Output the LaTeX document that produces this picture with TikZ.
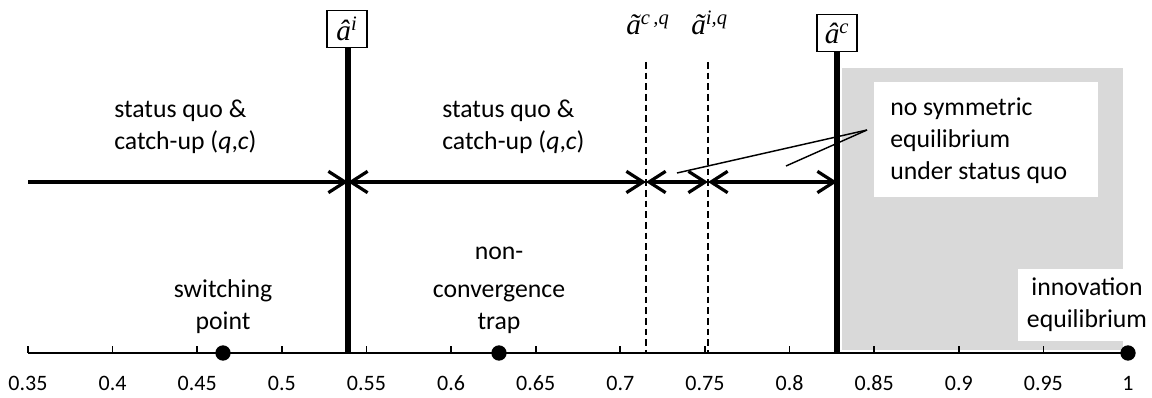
\documentclass[tikz,border=0pt]{standalone}
\usepackage{fontspec}
\setmainfont{Carlito}
\newfontfamily\tnr{Liberation Serif}
\usetikzlibrary{arrows.meta}
\definecolor{regiongray}{HTML}{D9D9D9}
\begin{document}
\begin{tikzpicture}[x=0.75pt,y=-0.75pt,
  txt/.style={font=\fontsize{19.3}{24}\selectfont, inner sep=0pt},
  ticklbl/.style={font=\fontsize{16.5}{20}\selectfont, inner sep=0pt, anchor=base},
  hatbox/.style={draw, line width=0.8pt, fill=white, inner sep=1.5pt, minimum width=30pt, minimum height=28pt, font=\fontsize{22}{24}\selectfont\tnr\itshape},
  tlbl/.style={inner sep=0pt, anchor=base west, font=\fontsize{22}{24}\selectfont\tnr\itshape},
  thickline/.style={line width=3.8pt},
  dashline/.style={line width=0.9pt, dash pattern=on 5pt off 3pt},
  axisline/.style={line width=2.1pt},
  tickline/.style={line width=1.3pt},
  dot/.style={circle, fill=black, inner sep=0pt, minimum size=11.5pt},
  barb/.tip={Straight Barb[length=12.5pt, width=16pt, line width=2.4pt]},
  arr/.style={line width=2.5pt},
  callout/.style={line width=1.1pt}
]
\useasboundingbox (0,0) rectangle (1152,398);
% shaded region and white label areas
\fill[regiongray] (842,68) rectangle (1123,350);
\fill[white] (874,82) rectangle (1098,197);
\fill[white] (1018,269) rectangle (1150,341);

% axis
\coordinate (axL) at (28,353);
\coordinate (axR) at (1128,353);
\draw[axisline] (axL) -- (axR);
\foreach \v [count=\i from 0] in {0.35,0.4,0.45,0.5,0.55,0.6,0.65,0.7,0.75,0.8,0.85,0.9,0.95,1} {
  \coordinate (t\i) at ({28+\i*84.615},353);
  \draw[tickline] (t\i) -- ++(0,-7);
  \node[ticklbl] (tl\i) at ({28+\i*84.615},391) {\v};
}

% threshold lines
\node[hatbox] (ahi) at (347,29) {â\textsuperscript{i}};
\node[hatbox] (ahc) at (837,33) {â\textsuperscript{c}};
\coordinate (ahib) at (348,353);
\coordinate (ahcb) at (837,353);
\draw[thickline] (ahi.south -| ahib) -- (ahib);
\draw[thickline] (ahc.south) -- (ahcb);

\node[tlbl] (tcq) at (626,35) {ã\textsuperscript{c\,,q}};
\node[tlbl] (tiq) at (691,35) {ã\textsuperscript{i,q}};
\coordinate (dcq) at (646,62);
\coordinate (diq) at (708,62);
\coordinate (dcqb) at (646,353);
\coordinate (diqb) at (708,353);
\draw[dashline] (dcq) -- (dcqb);
\draw[dashline] (diq) -- (diqb);

% arrows
\coordinate (a0) at (28,182);
\coordinate (a1) at (348,182);
\coordinate (a2) at (646,182);
\coordinate (a3) at (708,182);
\coordinate (a4) at (837,182);
\draw[arr,-barb] (a0) -- (a1);
\draw[arr,barb-barb] (a1) -- (a2);
\draw[arr,barb-barb] (a2) -- (a3);
\draw[arr,barb-barb] (a3) -- (a4);

% texts (anchor = baseline of last line)
\node[txt, align=left, anchor=base west] (sq1) at (114,150) {status quo \&\\catch-up (\textit{q},\textit{c})};
\node[txt, align=left, anchor=base west] (sq2) at (442,150) {status quo \&\\catch-up (\textit{q},\textit{c})};
\node[txt, align=center, anchor=base] (sw) at (223,330) {switching\\point};
\node[txt, align=center, anchor=base] (nct) at (499,330) {non-\\[5pt]convergence\\trap};
\node[txt, align=left, anchor=base west] (nse) at (890,180) {no symmetric\\equilibrium\\under status quo};
\node[txt, align=center, anchor=base] (ie) at (1087,328) {innovation\\equilibrium};

% callout lines
\coordinate (cl) at (867,130);
\coordinate (cl1) at (677,173);
\coordinate (cl2) at (786,166);
\draw[callout] (cl) -- (cl1);
\draw[callout] (cl) -- (cl2);

% dots
\node[dot] (sp) at (223,353) {};
\node[dot] (tp) at (499,353) {};
\node[dot] (ip) at (1128,353) {};
\end{tikzpicture}
\end{document}
